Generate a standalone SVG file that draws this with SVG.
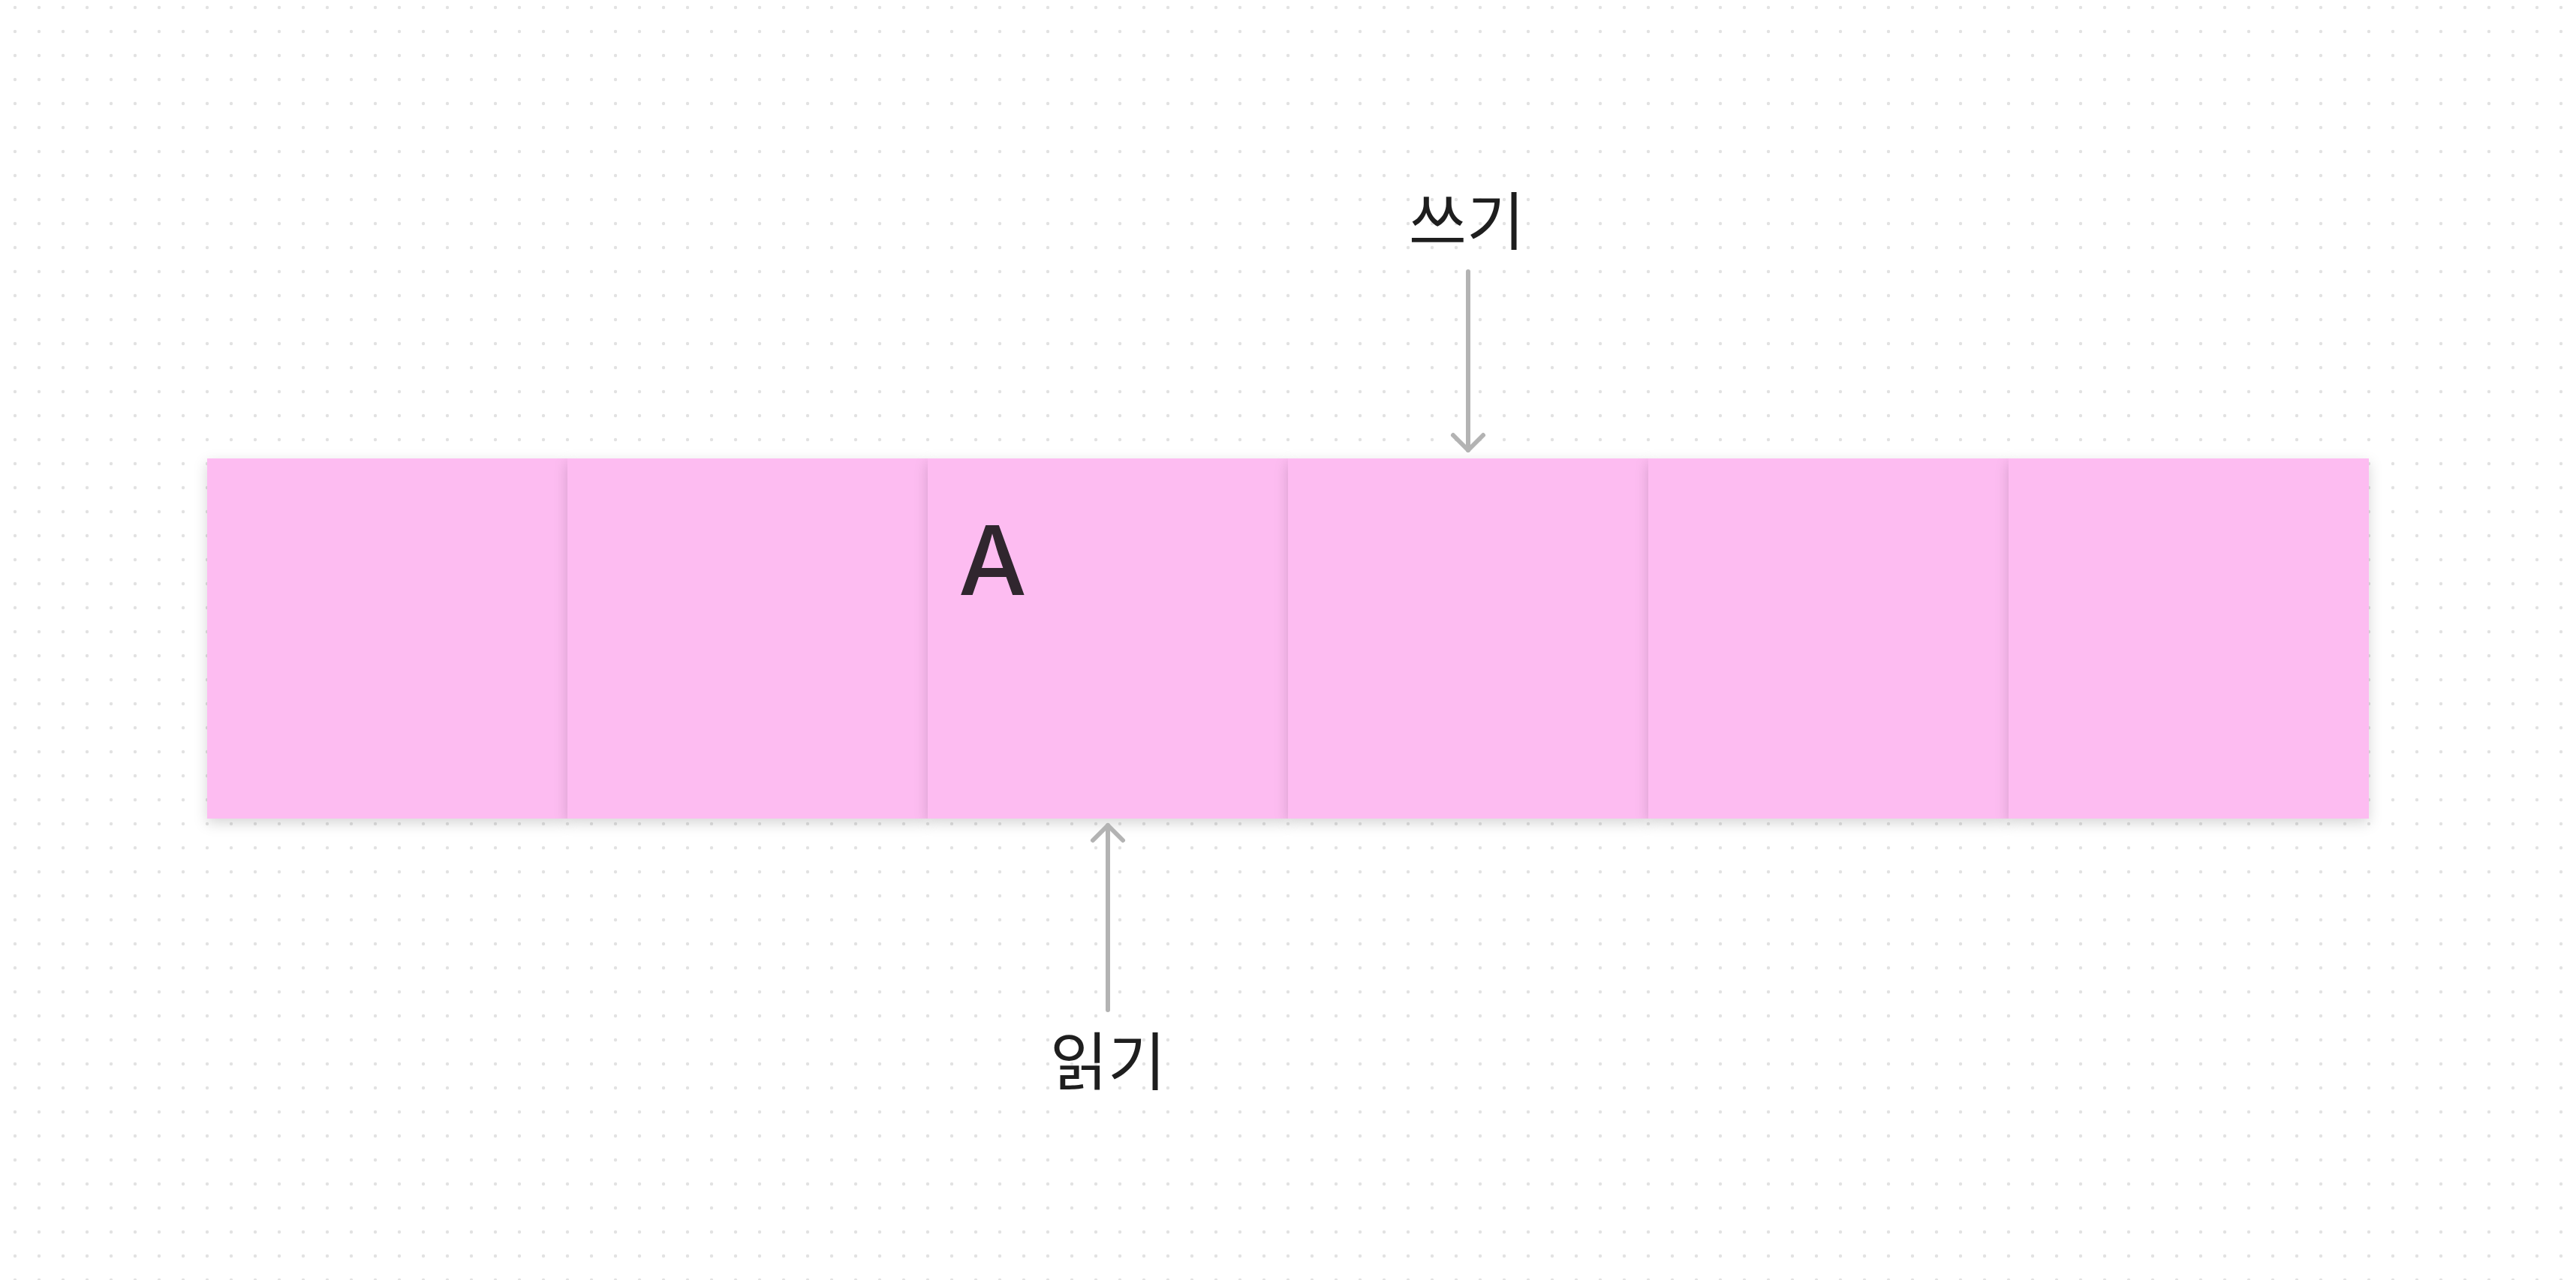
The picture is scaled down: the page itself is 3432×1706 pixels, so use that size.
<svg xmlns="http://www.w3.org/2000/svg" width="3432" height="1706" viewBox="0 0 3432 1706">
  <style>
    .cell { fill: #fdbcf1; }
    .label { font-family: "Noto Sans CJK KR", "Noto Sans", sans-serif; font-size: 84px; font-weight: 400; fill: #1e1e1e; text-anchor: middle; }
    .big { font-family: Inter, "Liberation Sans", sans-serif; font-size: 128px; font-weight: 500; fill: #30262e; }
    .conn { stroke: #b3b3b3; stroke-width: 6; stroke-linecap: round; fill: none; }
  </style>
  <defs>
    <pattern id="dots" patternUnits="userSpaceOnUse" x="0" y="0" width="32" height="32">
      <circle cx="20" cy="10" r="2.2" fill="#e2e2e2"/>
    </pattern>
    <filter id="shadow" x="-10%" y="-20%" width="120%" height="140%">
      <feDropShadow dx="0" dy="6" stdDeviation="9" flood-color="#000000" flood-opacity="0.16"/>
    </filter>
    <marker id="chev" markerUnits="userSpaceOnUse" viewBox="-26 -26 52 52" markerWidth="52" markerHeight="52" refX="0" refY="0" orient="auto" overflow="visible">
      <path d="M-20,-20 L0,0 L-20,20" fill="none" stroke="#b3b3b3" stroke-width="6" stroke-linecap="round" stroke-linejoin="round"/>
    </marker>
  </defs>
  <rect x="0" y="0" width="3432" height="1706" fill="#ffffff"/>
  <rect x="0" y="0" width="3432" height="1706" fill="url(#dots)"/>

  <g id="cell1"><rect class="cell" x="276" y="611" width="480" height="480" filter="url(#shadow)"/></g>
  <g id="cell2"><rect class="cell" x="756" y="611" width="480" height="480" filter="url(#shadow)"/></g>
  <g id="cell3"><rect class="cell" x="1236" y="611" width="480" height="480" filter="url(#shadow)"/>
    <text class="big" x="1277" y="793">A</text></g>
  <g id="cell4"><rect class="cell" x="1716" y="611" width="480" height="480" filter="url(#shadow)"/></g>
  <g id="cell5"><rect class="cell" x="2196" y="611" width="480" height="480" filter="url(#shadow)"/></g>
  <g id="cell6"><rect class="cell" x="2676" y="611" width="480" height="480" filter="url(#shadow)"/></g>

  <g id="label-write"><text class="label" x="1954" y="326">쓰기</text></g>
  <g id="label-read"><text class="label" x="1476" y="1446">읽기</text></g>

  <g id="connectors">
    <line class="conn" x1="1956" y1="362" x2="1956" y2="600" marker-end="url(#chev)"/>
    <line class="conn" x1="1476" y1="1346" x2="1476" y2="1100" marker-end="url(#chev)"/>
  </g>
</svg>
